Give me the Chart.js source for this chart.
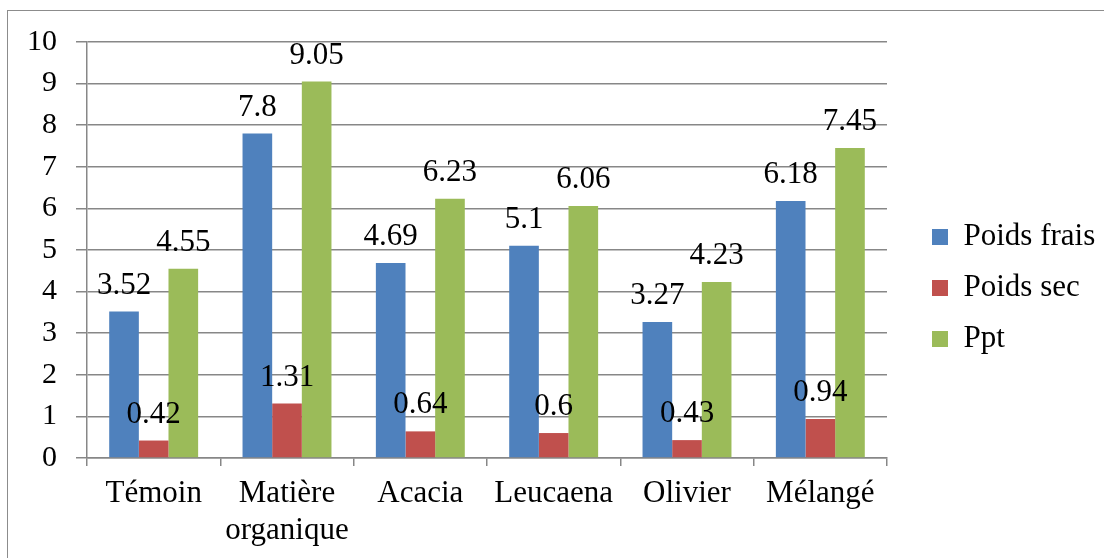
<!DOCTYPE html>
<html>
<head>
<meta charset="utf-8">
<script src="https://cdn.jsdelivr.net/npm/chart.js@4.4.1/dist/chart.umd.min.js"></script>
<style>
  html, body { margin: 0; padding: 0; background: #fff; overflow: hidden; }
  #frame { position: absolute; left: 7px; top: 10px; width: 1200px; height: 700px; border: 1.5px solid #8c8c8c; box-sizing: border-box; }
  #wrap { position: absolute; left: 0; top: 0; width: 1104px; height: 558px; }
</style>
</head>
<body>
<div id="frame"></div>
<div id="wrap"><canvas id="c" width="1104" height="558"></canvas></div>
<script>
const categories = ['Témoin', ['Matière', 'organique'], 'Acacia', 'Leucaena', 'Olivier', 'Mélangé'];
const poidsFrais = [3.52, 7.8, 4.69, 5.1, 3.27, 6.18];
const poidsSec = [0.42, 1.31, 0.64, 0.6, 0.43, 0.94];
const ppt = [4.55, 9.05, 6.23, 6.06, 4.23, 7.45];
const seriesNames = ['Poids frais', 'Poids sec', 'Ppt'];
const yTicks = [0, 1, 2, 3, 4, 5, 6, 7, 8, 9, 10];

const FONT = "'Liberation Serif', 'Times New Roman', serif";
const GRID = '#878787';
const LEGEND_W = 217;     // legend box width (chart area ends at 887)
const LEGEND_PAD = 20;

const legendPlacement = {
  id: 'legendPlacement',
  afterInit(chart) {
    const lg = chart.legend;
    if (!lg || lg._patched) return;
    const orig = lg.fit.bind(lg);
    lg.fit = function () { orig(); this.width = LEGEND_W; };
    lg._patched = true;
  },
  afterLayout(chart) {
    const lg = chart.legend;
    lg.left = 912;
    lg.top = 201.5;
  }
};

const valueLabels = {
  id: 'valueLabels',
  afterDatasetsDraw(chart) {
    const ctx = chart.ctx;
    ctx.save();
    ctx.font = '31px ' + FONT;
    ctx.fillStyle = '#000';
    ctx.textAlign = 'center';
    ctx.textBaseline = 'alphabetic';
    chart.data.datasets.forEach((ds, i) => {
      const meta = chart.getDatasetMeta(i);
      meta.data.forEach((bar, j) => {
        ctx.fillText(String(ds.data[j]), bar.x, bar.y - 18);
      });
    });
    ctx.restore();
  }
};

new Chart(document.getElementById('c'), {
  type: 'bar',
  data: {
    labels: categories,
    datasets: [
      { label: seriesNames[0], data: poidsFrais, backgroundColor: '#4F81BD' },
      { label: seriesNames[1], data: poidsSec, backgroundColor: '#C0504D' },
      { label: seriesNames[2], data: ppt, backgroundColor: '#9BBB59' }
    ]
  },
  options: {
    responsive: false,
    animation: false,
    devicePixelRatio: 1,
    layout: { padding: { left: 0, top: 42, right: 0, bottom: 0 } },
    datasets: { bar: { barPercentage: 1, categoryPercentage: 0.667 } },
    plugins: {
      title: { display: false },
      tooltip: { enabled: false },
      legend: {
        position: 'right',
        align: 'start',
        labels: {
          boxWidth: 16,
          boxHeight: 16,
          padding: LEGEND_PAD,
          color: '#000',
          font: { family: FONT, size: 31 }
        }
      }
    },
    scales: {
      x: {
        offset: true,
        grid: { display: true, drawOnChartArea: false, drawTicks: true, tickLength: 8, offset: true, color: GRID, lineWidth: 1.5 },
        border: { display: true, color: GRID, width: 1.5 },
        ticks: { color: '#000', font: { family: FONT, size: 31, lineHeight: 1.17 }, padding: 10, maxRotation: 0, autoSkip: false },
        afterFit(scale) { scale.height = 100; }
      },
      y: {
        min: 0,
        max: 10,
        afterBuildTicks(scale) { scale.ticks = yTicks.map(v => ({ value: v })); },
        grid: { color: GRID, lineWidth: 1.5, drawTicks: true, tickLength: 11 },
        border: { display: true, color: GRID, width: 1.5 },
        ticks: { color: '#000', font: { family: FONT, size: 30 }, padding: 19 },
        afterFit(scale) { scale.width = 87; }
      }
    }
  },
  plugins: [legendPlacement, valueLabels]
});
</script>
</body>
</html>
